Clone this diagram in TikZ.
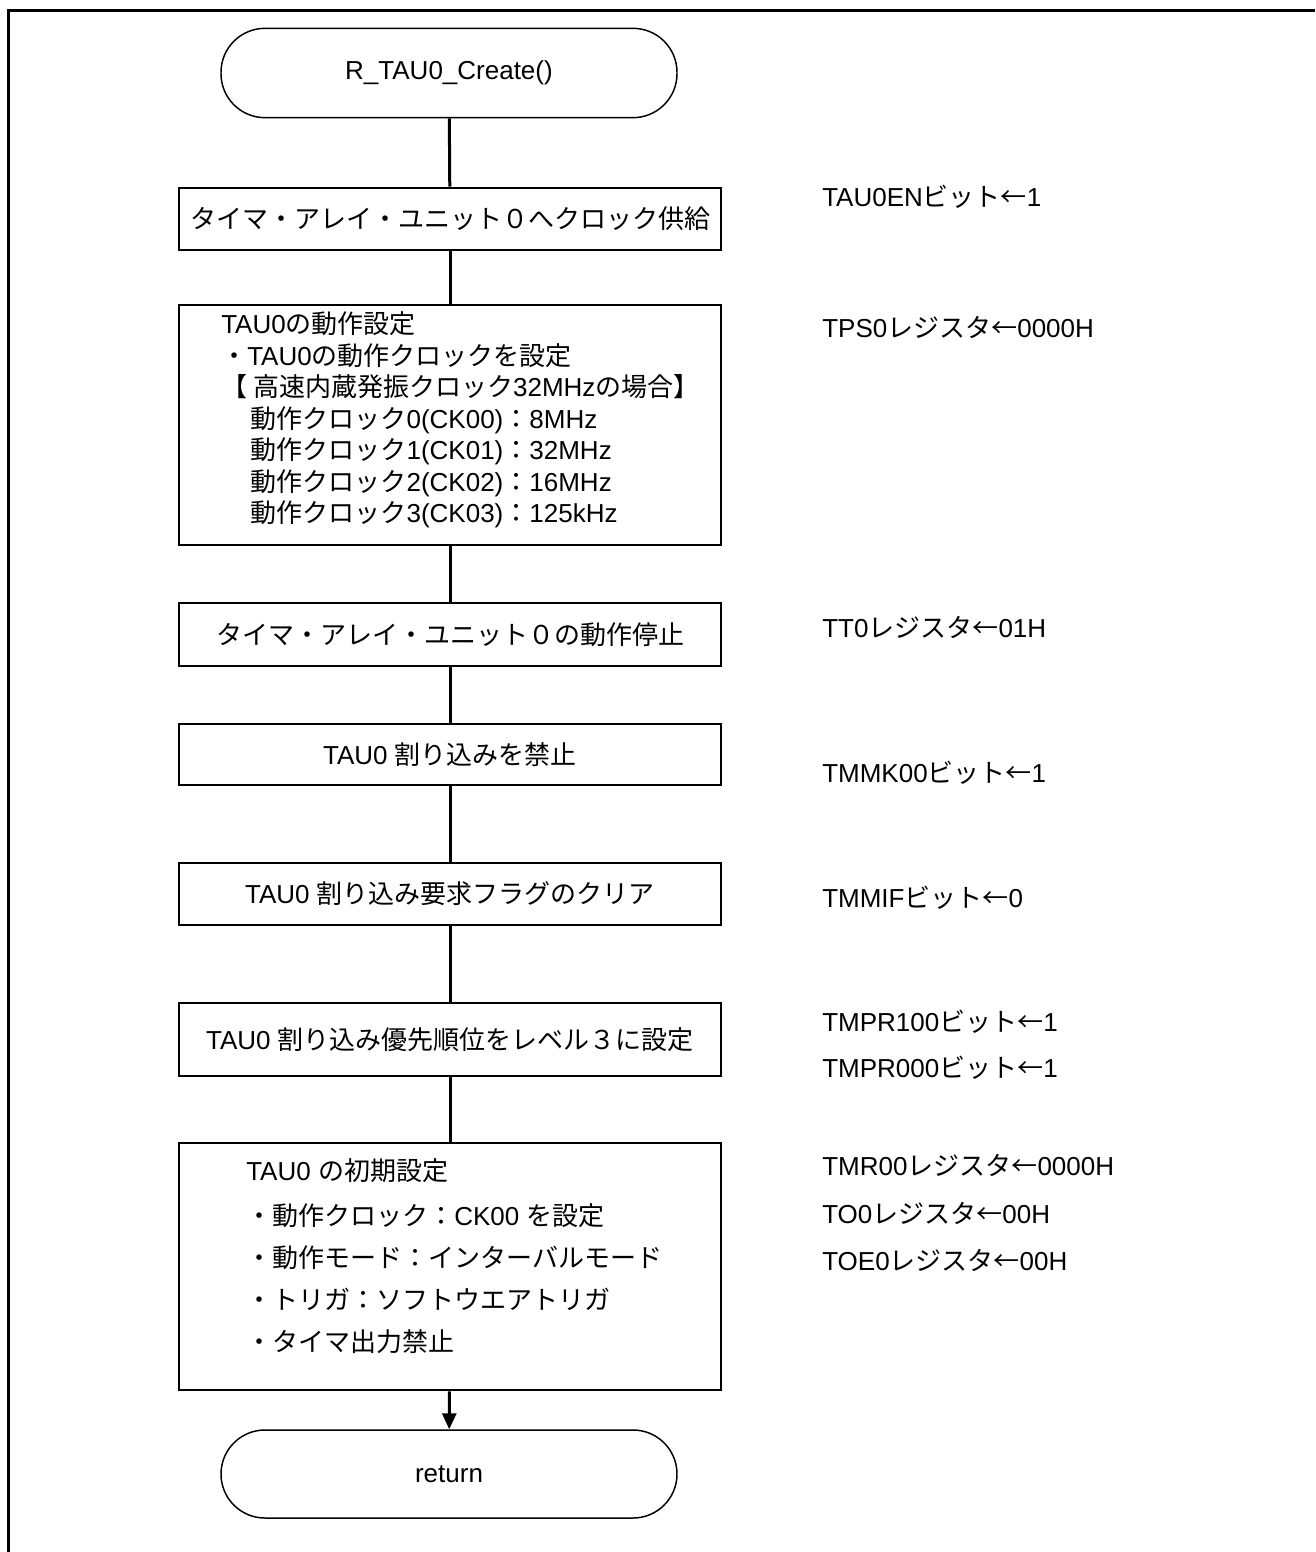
\documentclass[tikz,border=0pt]{standalone}
\usepackage{fontspec}
\setmainfont{Liberation Sans}
\newfontfamily\jp{Noto Sans CJK JP}
\usetikzlibrary{arrows.meta}

\begin{document}
\begin{tikzpicture}[x=0.75pt,y=0.75pt,yscale=-1,xscale=1,
  every node/.style={font=\fontsize{19.5}{23.6}\selectfont},
  term/.style={draw,line width=1.1pt,rounded corners=33pt,minimum width=342pt,minimum height=67pt,inner sep=0pt},
  procbox/.style={draw,line width=1.9pt,minimum width=406.5pt,inner sep=0pt},
  txt/.style={anchor=west,align=left,inner sep=0pt},
  reg/.style={anchor=west,inner sep=0pt},
  flow/.style={line width=2.25pt}]
\useasboundingbox (0,0) rectangle (1315,1552);

%Frame
\draw [line width=2.25pt] (8,1552) -- (8,11) -- (1315,11) ;

%Terminals
\node [term] (start) at (449,73) {R\_TAU0\_Create()};
\node [term,minimum height=66pt] (ret) at (449,1474) {return};

%Process boxes
\node [procbox,minimum height=46.5pt] (clk) at (450,219) {{\jp タイマ・アレイ・ユニット０へクロック供給}};
\node [procbox,minimum height=180pt] (opset) at (450,425) {};
\node [procbox,minimum height=47.25pt] (stop) at (450,634.5) {{\jp タイマ・アレイ・ユニット０の動作停止}};
\node [procbox,minimum height=45.75pt] (mask) at (450,754.5) {TAU0 {\jp 割り込みを禁止}};
\node [procbox,minimum height=46.5pt] (flag) at (450,894) {TAU0 {\jp 割り込み要求フラグのクリア}};
\node [procbox,minimum height=54.75pt] (prio) at (450,1039.5) {TAU0 {\jp 割り込み優先順位をレベル３に設定}};
\node [procbox,minimum height=185.25pt] (init) at (450,1266.5) {};

% Text Node
\node [txt] (opsettxt) at (221,420) {TAU0{\jp の動作設定}\\
{\jp ・}TAU0{\jp の動作クロックを設定}\\
{\jp 【 高速内蔵発振クロック}32MHz{\jp の場合】}\\
\hspace*{22pt}{\jp 動作クロック}0(CK00){\jp ：}8MHz\\
\hspace*{22pt}{\jp 動作クロック}1(CK01){\jp ：}32MHz\\
\hspace*{22pt}{\jp 動作クロック}2(CK02){\jp ：}16MHz\\
\hspace*{22pt}{\jp 動作クロック}3(CK03){\jp ：}125kHz};
% Text Node
\node [txt,font=\fontsize{19.5}{31.5}\selectfont] (inittxt) at (246,1256) {TAU0 {\jp の初期設定}\\[2pt]
{\jp ・動作クロック：}CK00 {\jp を設定}\\
{\jp ・動作モード：インターバルモード}\\
{\jp ・トリガ：ソフトウエアトリガ}\\
{\jp ・タイマ出力禁止}};

%Register notes
\node [reg] (lclk) at (822,197) {TAU0EN{\jp ビット←}1};
\node [reg] (lopset) at (822,327) {TPS0{\jp レジスタ←}0000H};
\node [reg] (lstop) at (822,627) {TT0{\jp レジスタ←}01H};
\node [reg] (lmask) at (822,773) {TMMK00{\jp ビット←}1};
\node [reg] (lflag) at (822,898) {TMMIF{\jp ビット←}0};
\node [reg] (lprioa) at (822,1022) {TMPR100{\jp ビット←}1};
\node [reg] (lpriob) at (822,1068) {TMPR000{\jp ビット←}1};
\node [reg] (linita) at (822,1165) {TMR00{\jp レジスタ←}0000H};
\node [reg] (linitb) at (822,1213) {TO0{\jp レジスタ←}00H};
\node [reg] (linitc) at (822,1260) {TOE0{\jp レジスタ←}00H};

%Connectors
\draw [flow] (start) -- (clk) ;
\draw [flow] (clk) -- (opset) ;
\draw [flow] (opset) -- (stop) ;
\draw [flow] (stop) -- (mask) ;
\draw [flow] (mask) -- (flag) ;
\draw [flow] (flag) -- (prio) ;
\draw [flow] (prio) -- (init) ;
\draw [flow,-{Triangle[length=12pt,width=10.5pt]}] (init) -- (ret) ;

\end{tikzpicture}
\end{document}
